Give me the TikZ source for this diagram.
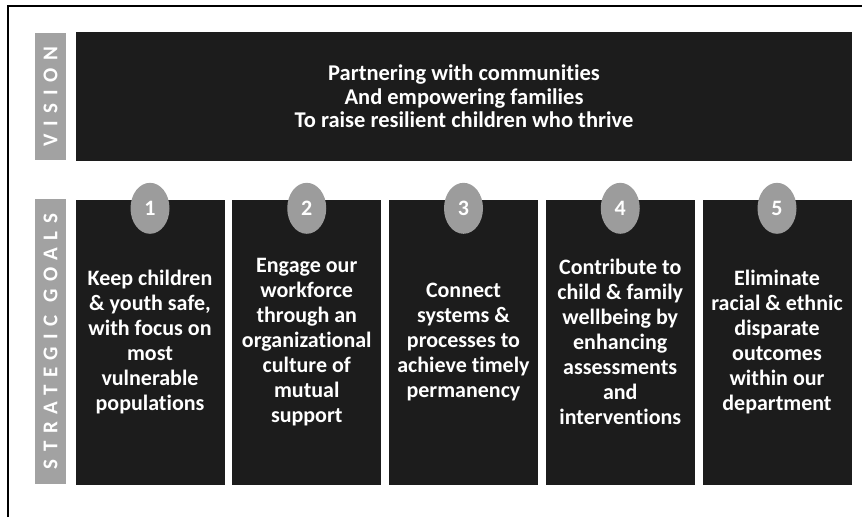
\documentclass[tikz,border=0pt]{standalone}
\usepackage{fontspec}
\setmainfont{Carlito}[Ligatures={NoCommon,NoContextual}]
\newfontfamily\labelfont[LetterSpace=36]{Carlito}
\usepackage{tikz}
\usetikzlibrary{positioning,shapes}
\definecolor{boxdark}{HTML}{1C1C1C}
\definecolor{bargray}{HTML}{A2A2A2}
\definecolor{dotgray}{HTML}{9C9C9C}
\tikzset {
    side bar/.style={
        fill=bargray,
        draw=none,
        rectangle, % the grey strip on the left
        minimum height=31pt,
        inner sep=0pt,
        text=white,
        font=\labelfont\fontsize{21}{21}\selectfont\bfseries,
    },
    vision box/.style={
        fill=boxdark,
        draw=none,
        rectangle,
        minimum width=776pt,
        minimum height=129pt,
        inner sep=0pt,
        text=white,
        font=\fontsize{22.5}{23.5}\selectfont\bfseries,
        align=center,
    },
    goal box/.style={
        fill=boxdark,
        draw=none,
        rectangle,
        minimum width=149pt,
        minimum height=285pt,
        inner sep=0pt,
        text=white,
        font=\fontsize{22}{25}\selectfont\bfseries,
        align=center,
    },
    goal num/.style={
        fill=dotgray,
        draw=none,
        ellipse,
        minimum width=39pt,
        minimum height=51pt,
        inner sep=0pt,
        text=white,
        font=\fontsize{22}{22}\selectfont\bfseries,
    },
}

\begin{document}
\begin{tikzpicture}
[x=1pt, y=-1pt]
\useasboundingbox (0,0) rectangle (862,517);
\draw[line width=1.5pt] (8,517) -- (8,6) -- (862,6);

\node[side bar, minimum width=127pt, rotate=90] at (50.5, 96.5) (visionlbl) {VISION};
\node[side bar, minimum width=285pt, rotate=90] at (50.5, 341.5) (goalslbl) {STRATEGIC GOALS};

\node[vision box] at (464, 96.5) (vision) {Partnering with communities\\And empowering families\\To raise resilient children who thrive};

% the five goals
\node[goal box] at (150, 342) (goal1) {Keep children\\\& youth safe,\\with focus on\\most\\vulnerable\\populations};
\node[goal box] at (306.75, 342) (goal2) {Engage our\\workforce\\through an\\organizational\\culture of\\mutual\\support};
\node[goal box] at (463.5, 342) (goal3) {Connect\\systems \&\\processes to\\achieve timely\\permanency};
\node[goal box] at (620.25, 342) (goal4) {Contribute to\\child \& family\\wellbeing by\\enhancing\\assessments\\and\\interventions};
\node[goal box] at (777, 342) (goal5) {Eliminate\\racial \& ethnic\\disparate\\outcomes\\within our\\department};

\node[goal num] at ([yshift=-9pt]goal1.north) (num1) {1};
\node[goal num] at ([yshift=-9pt]goal2.north) (num2) {2};
\node[goal num] at ([yshift=-9pt]goal3.north) (num3) {3};
\node[goal num] at ([yshift=-9pt]goal4.north) (num4) {4};
\node[goal num] at ([yshift=-9pt]goal5.north) (num5) {5};
\end{tikzpicture}
\end{document}
